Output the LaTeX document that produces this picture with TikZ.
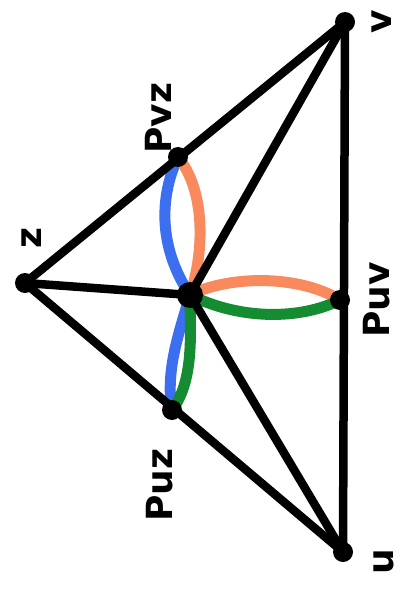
\documentclass[tikz,border=0pt]{standalone}
\usepackage{fontspec}
\setsansfont{DejaVu Sans}
\definecolor{cblue}{RGB}{60,110,240}
\definecolor{corange}{RGB}{248,138,94}
\definecolor{cgreen}{RGB}{22,140,50}
\begin{document}
\begin{tikzpicture}[x=1pt,y=-1pt,
  edge/.style={line width=8.5pt,line cap=round,black},
  path/.style={line width=11pt,line cap=round},
  dot/.style={circle,fill=black,inner sep=0pt,minimum size=20pt},
  bigdot/.style={circle,fill=black,inner sep=0pt,minimum size=26pt},
  lab/.style={rotate=90,font=\sffamily\bfseries\fontsize{36}{36}\selectfont,inner sep=0pt}]
\useasboundingbox (0,0) rectangle (409,594);
\fill[white] (0,0) rectangle (409,594);
\coordinate (v) at (345,22);
\coordinate (z) at (25,283);
\coordinate (u) at (343,552);
\coordinate (c) at (190,295);
\coordinate (pvz) at (178,157);
\coordinate (puv) at (340,300);
\coordinate (puz) at (172,410);
% colored paths
\draw[path,cblue] (pvz) .. controls (158,200) and (160,250) .. (c) .. controls (180,330) and (165,370) .. (puz);
\draw[path,corange] (pvz) .. controls (205,190) and (205,250) .. (c);
\draw[path,corange] (c) .. controls (230,275) and (300,275) .. (puv);
\draw[path,cgreen] (c) .. controls (240,320) and (300,320) .. (puv);
\draw[path,cgreen] (c) .. controls (190,330) and (195,380) .. (puz);
% black edges
\draw[edge] (v) -- (z) -- (u) -- cycle;
\draw[edge] (z) -- (c);
\draw[edge] (c) -- (v);
\draw[edge] (c) -- (u);
% vertices
\node[dot] (nv) at (v) {};
\node[dot] (nz) at (z) {};
\node[dot] (nu) at (u) {};
\node[dot] (npvz) at (pvz) {};
\node[dot] (npuv) at (puv) {};
\node[dot] (npuz) at (puz) {};
\node[bigdot] (nc) at (c) {};
% labels
\node[lab] (lv) at (382,22) {v};
\node[lab] (lu) at (384,562) {u};
\node[lab] (lz) at (32,238) {z};
\node[lab] (lpvz) at (158,118) {Pvz};
\node[lab] (lpuv) at (377,300) {Puv};
\node[lab] (lpuz) at (160,485) {Puz};
\end{tikzpicture}
\end{document}
